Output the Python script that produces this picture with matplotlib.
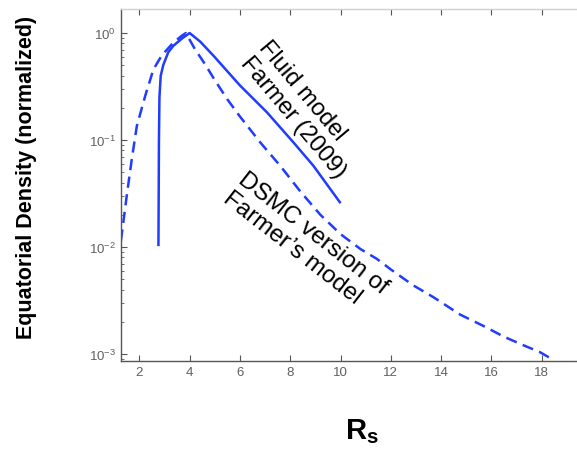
import matplotlib
matplotlib.use("Agg")
import matplotlib.pyplot as plt
from matplotlib.ticker import LogLocator

plt.rcParams["font.family"] = ["Liberation Sans", "DejaVu Sans"]
plt.rcParams["mathtext.fontset"] = "custom"
plt.rcParams["mathtext.rm"] = "Liberation Sans"
plt.rcParams["mathtext.bf"] = "Liberation Sans:bold"

# Fluid model, Farmer (2009) - solid
fluid_r = [2.76, 2.77, 2.78, 2.80, 2.85, 2.95, 3.15, 3.35, 3.7, 4.0,
           4.42, 4.94, 6.0, 7.07, 8.12, 8.92, 10.0]
fluid_n = [0.0102, 0.0316, 0.1, 0.251, 0.398, 0.501, 0.661, 0.759, 0.891, 1.0,
           0.832, 0.617, 0.324, 0.182, 0.0955, 0.0575, 0.0257]

# DSMC version of Farmer's model - dashed
dsmc_r = [1.27, 1.5, 1.7, 1.9, 2.23, 2.56, 2.89, 3.35, 3.69, 3.85,
          4.21, 4.61, 5.0, 5.5, 6.0, 6.8, 7.6, 8.4, 9.2, 10.0,
          10.8, 11.44, 12.0, 12.9, 13.7, 14.75, 15.7, 16.5, 17.3, 17.9, 18.5]
dsmc_n = [0.0115, 0.0302, 0.0661, 0.135, 0.257, 0.457, 0.617, 0.813, 0.944, 1.0,
          0.708, 0.513, 0.363, 0.240, 0.166, 0.0955, 0.0575, 0.0331, 0.0200, 0.0132,
          0.00955, 0.00776, 0.00617, 0.00437, 0.00339, 0.00234, 0.00182, 0.00145,
          0.00120, 0.00105, 0.00087]

x_ticks = [2, 4, 6, 8, 10, 12, 14, 16, 18]

BLUE = "#1f3cff"
GRAY = "#555555"
W, H = 577, 452

fig = plt.figure(figsize=(5.77, 4.52), dpi=100)
ax = fig.add_axes([0.2092, 0.199, 0.7908, 0.779])

ax.plot(fluid_r, fluid_n, color=BLUE, lw=1.8, solid_capstyle="butt")
ax.plot(dsmc_r, dsmc_n, color=BLUE, lw=1.8, ls=(0, (4.5, 2.6)))

ax.set_yscale("log")
ax.set_xlim(1.26, 19.4)
ax.set_ylim(8.6e-4, 1.68)
ax.set_xticks(x_ticks)
ax.yaxis.set_major_locator(LogLocator(base=10, numticks=10))

ax.spines["right"].set_visible(False)
ax.spines["left"].set_color(GRAY)
ax.spines["bottom"].set_color(GRAY)
ax.spines["top"].set_color("#d0d0d0")
for s in ["left", "bottom", "top"]:
    ax.spines[s].set_linewidth(1.0)

ax.tick_params(axis="both", which="both", direction="in", colors=GRAY,
               labelcolor="#606060", labelsize=9.5)
ax.tick_params(axis="x", top=True, length=4)
ax.tick_params(axis="y", which="major", length=4)
ax.tick_params(axis="y", which="minor", length=2)

# annotations (placed in pixel positions of the figure)
fig.text(302 / W, 1 - 110 / H, "Fluid model\nFarmer (2009)", fontsize=17,
         rotation=-50, ha="center", va="center", rotation_mode="anchor",
         multialignment="left", linespacing=1.15)
fig.text(305 / W, 1 - 243 / H, "DSMC version of\nFarmer\u2019s model", fontsize=17.5,
         rotation=-38, ha="center", va="center", rotation_mode="anchor",
         multialignment="left", linespacing=1.15)

fig.text(27 / W, 1 - 177 / H, "Equatorial Density (normalized)", fontsize=15.5,
         fontweight="bold", rotation=90, ha="center", va="center")
fig.text(362 / W, 1 - 432 / H, r"$\mathbf{R_s}$", fontsize=21,
         ha="center", va="center")

plt.savefig("out.png", dpi=100)
